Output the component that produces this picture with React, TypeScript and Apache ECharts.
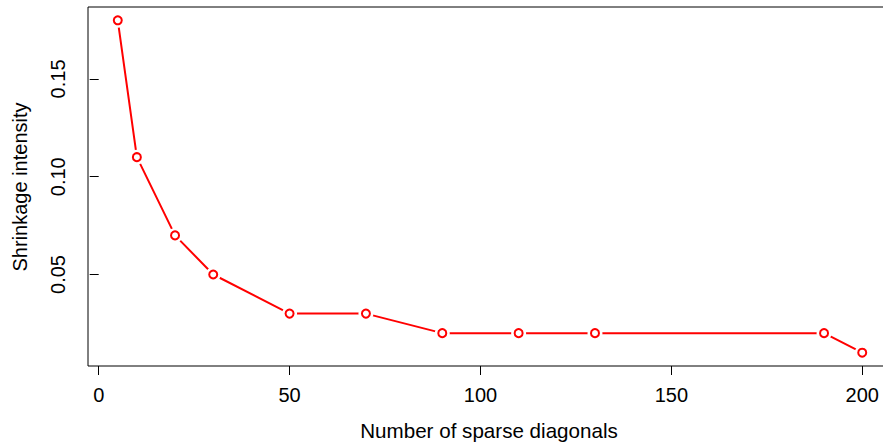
import React, { useEffect, useRef } from "react";
import * as echarts from "echarts";

const xValues = [5, 10, 20, 30, 50, 70, 90, 110, 130, 190, 200];
const yValues = [0.18, 0.11, 0.07, 0.05, 0.03, 0.03, 0.02, 0.02, 0.02, 0.02, 0.01];
const xTicks = [0, 50, 100, 150, 200];
const yTicks = [0.05, 0.1, 0.15];
const xTitle = "Number of sparse diagonals";
const yTitle = "Shrinkage intensity";

export default function App() {
  const ref = useRef<HTMLDivElement>(null);
  useEffect(() => {
    if (!ref.current) return;
    const chart = echarts.init(ref.current, null, { renderer: "svg" });
    const pts = xValues.map((x, i) => [x, yValues[i]]);
    const font = "Liberation Sans, Arial, Helvetica, sans-serif";
    chart.setOption({
      animation: false,
      backgroundColor: "#ffffff",
      grid: {
        left: 88,
        right: 8,
        top: 7,
        bottom: 77,
        show: true,
        borderColor: "#000",
        borderWidth: 1,
        backgroundColor: "transparent",
      },
      xAxis: {
        type: "value",
        min: -2.8,
        max: 207.8,
        axisLine: { show: false },
        splitLine: { show: false },
        axisTick: {
          show: true,
          inside: false,
          length: 9,
          customValues: xTicks,
          lineStyle: { color: "#000", width: 1 },
        },
        axisLabel: {
          customValues: xTicks,
          margin: 19,
          color: "#000",
          fontSize: 20,
          fontFamily: font,
          formatter: (v: number) => String(v),
        },
      },
      yAxis: {
        type: "value",
        min: 0.0032,
        max: 0.1868,
        axisLine: { show: false },
        splitLine: { show: false },
        axisTick: {
          show: true,
          inside: false,
          length: 9,
          customValues: yTicks,
          lineStyle: { color: "#000", width: 1 },
        },
        axisLabel: {
          customValues: yTicks,
          rotate: 90,
          margin: 20,
          color: "#000",
          fontSize: 20,
          fontFamily: font,
          formatter: (v: number) => v.toFixed(2),
        },
      },
      graphic: [
        {
          type: "text",
          x: 489,
          y: 430,
          style: {
            text: xTitle,
            fontSize: 20.6,
            fontFamily: font,
            fill: "#000",
            textAlign: "center",
            textVerticalAlign: "middle",
          },
        },
        {
          type: "text",
          x: 20,
          y: 187,
          rotation: Math.PI / 2,
          style: {
            text: yTitle,
            fontSize: 20,
            fontFamily: font,
            fill: "#000",
            textAlign: "center",
            textVerticalAlign: "middle",
          },
        },
      ],
      series: [
        {
          type: "line",
          data: pts,
          showSymbol: false,
          symbol: "none",
          lineStyle: { color: "#ff0000", width: 2 },
          z: 1,
        },
        {
          type: "scatter",
          data: pts,
          symbol: "circle",
          symbolSize: 15,
          itemStyle: { color: "#ffffff", opacity: 1 },
          z: 2,
        },
        {
          type: "scatter",
          data: pts,
          symbol: "circle",
          symbolSize: 8,
          itemStyle: { color: "#ffffff", borderColor: "#ff0000", borderWidth: 2, opacity: 1 },
          z: 3,
        },
      ],
    });
    return () => chart.dispose();
  }, []);
  return (
    <div
      ref={ref}
      style={{ position: "fixed", left: 0, top: 0, width: 900, height: 443 }}
    />
  );
}
